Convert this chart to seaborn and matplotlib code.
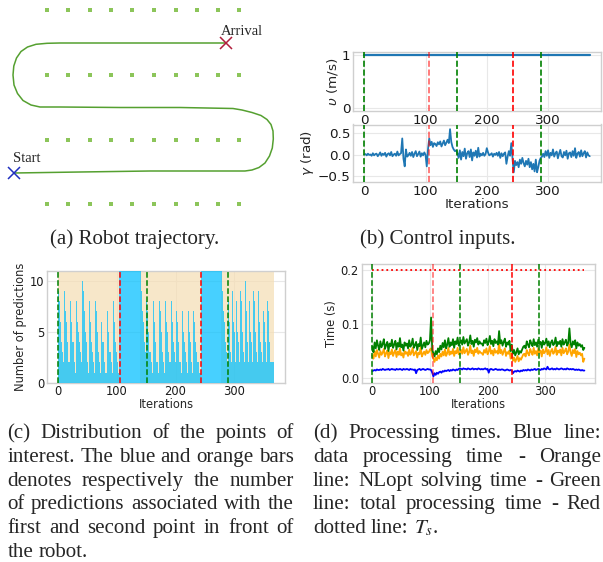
import numpy as np
import matplotlib
matplotlib.use("Agg")
import matplotlib.pyplot as plt
import seaborn as sns

W, H = 603, 562

# ---------------- data ----------------
# (a) field layout and robot path (panel units = picture units)
field_cols = [47, 68, 90, 111, 132, 154, 176, 197, 218, 239]
field_rows = [10, 75, 140, 204]
traj_x = [14, 80, 150, 200, 245, 252, 259, 265, 269.5, 272.3, 273.3, 273, 271, 267,
          261, 252, 242, 233, 180, 120, 60, 40, 31, 23, 17.5, 14, 13, 13.8, 16.5, 21,
          27.5, 36, 47, 60, 120, 180, 226]
traj_y = [173, 172, 171, 171, 171, 170, 167.5, 163, 156, 148, 139, 131, 124.5, 119.5,
          115.5, 112.5, 110, 108.5, 107.5, 107.5, 107, 107, 105, 100.5, 93.5, 85, 75, 66,
          58, 51.5, 47, 44.3, 43.3, 43, 43, 43, 43]
start_pt = (14, 173)
arrival_pt = (226, 43)

# event markers (iterations)
events_green = [0, 152, 289]
events_red = [105, 243]

# (b) control inputs, sampled every 2 iterations
line_iters = list(range(0, 369, 2))
velocity = [1.0] * len(line_iters)
gamma_c = [0, 1, -2, 2, -1, 0, -3, 3, -2, 1, 2, -4, 0, 5, -3, 2, -1, 4, -5, 1,
           3, -2, 6, -4, 0, 2, -3, 7, -2, 1,
           3, 38, -10, -28, 12, -5,
           -2, 4, -3, 6, -6, 2, 8, -4, 1, 7, -5, 3, -2, 5, -1,
           -28, 12,
           38, 22, 30, 18, 27, 25, 20, 29, 24, 31, 19, 26, 33, 22, 28, 35, 27, 60, 30, 18,
           12, 8, 10, 3,
           -8, 10, -12, 6, -4, 14, -10, 3, 8, -6, 12, -14, 5, -3, 9, -7, 16, -5, 2, -2,
           4, -3, 1, 15, 5, -2, 0, 3, -5, 2, -1, 4, -3, 6, -8, 3, -4, 2, 5, -22,
           -5, 8, -3,
           27, -10, -42,
           -15, -25, -18, -30, -12, -22, -8, -20, -28, -15, -24, -10, -30, -18, -35, -22,
           -40, -12, -42, -30, -15, -8, -5,
           2, -6, 8, -3, 10, -8, 4, -2, 12, -5, 3, 7, -9, 2, 11, -4, -7, 6, -2, 9,
           -10, 3, 5, -6, 8, -3, 15, -8, 2, 6, -5, 10, -4, 3, 8, -7, 5, -2, -4]

# (c) number of predictions per iteration (blue: first point, orange: second point)
blue_a = [10, 9, 8, 7, 6, 5, 4, 3, 3, 2, 2, 9, 8, 7, 6, 5, 4, 3, 2, 2, 1,
          8, 7, 6, 5, 4, 4, 3, 2, 2, 1, 8, 7, 6, 5, 5, 4, 3, 3, 2, 2, 1,
          10, 9, 8, 7, 6, 5, 4, 3, 2, 2, 1, 8, 7, 6, 5, 4, 4, 3, 2, 2, 1, 1,
          8, 7, 6, 5, 4, 3, 2, 2, 1, 7, 6, 5, 4, 4, 3, 2, 2, 1, 1,
          8, 7, 6, 5, 4, 3, 3, 2, 2, 1, 1, 8, 7, 6, 5, 4, 3, 2, 2, 2, 1, 1]
blue_b = [13, 14, 15, 14, 16, 13, 15, 14, 13, 16, 15, 14, 13, 15, 16, 14, 13, 15,
          14, 16, 15, 13, 14, 15, 16, 14, 13, 15, 14, 16, 13, 15, 14, 13, 15]
blue_c = [11, 10, 9, 8, 7, 6, 5, 4, 3, 3, 2,
          8, 7, 6, 5, 4, 3, 3, 2, 2, 1, 1, 8, 7, 6, 5, 4, 3, 2, 2, 1, 1,
          9, 8, 7, 6, 5, 4, 3, 2, 2, 1, 1, 8, 7, 6, 5, 4, 3, 3, 2, 2, 1,
          8, 7, 6, 5, 4, 3, 2, 2, 8, 7, 6, 5, 4, 3, 2, 2, 1, 1,
          8, 7, 6, 5, 4, 3, 3, 2, 2, 1, 8, 7, 6, 5, 4, 3, 2, 2, 1, 1,
          7, 6, 5, 4, 3, 3, 2, 2, 2, 1, 1, 1]
blue_d = [14, 15, 13, 16, 14, 15, 13, 14, 16, 15, 14, 13, 15, 14, 16, 13, 15, 14,
          13, 16, 14, 15, 13, 14, 15, 16, 14, 13, 15, 14, 16, 13, 14, 15, 13]
blue_e = [11, 10, 9, 8, 7, 6, 5, 4, 3, 3, 2, 2,
          8, 7, 6, 5, 3, 2, 2, 9, 8, 6, 5, 3, 2, 2, 8, 7, 5, 4, 3, 2, 1,
          9, 8, 7, 5, 4, 3, 2, 2, 10, 8, 7, 5, 4, 2, 2, 8, 7, 5, 4, 3, 2, 1,
          9, 8, 6, 5, 4, 3, 2, 2, 9, 7, 6, 5, 4, 3, 2, 2, 8, 7, 6, 5, 4, 3, 2, 1,
          8, 7, 6, 4, 3, 2, 2, 3, 2, 2, 2, 1]
orange_a = [13, 15, 14, 16, 12, 14, 15, 13, 17, 14, 15, 12, 16, 14, 13, 15, 14, 16, 13, 15,
            14, 16, 12, 15, 14, 13, 17, 15, 14, 12, 16, 14, 15, 13, 14, 16, 15, 12, 14, 15,
            13, 17, 14, 15, 16, 13, 14, 12, 15, 14, 16, 13, 15, 14, 12, 16, 15, 14, 13, 15,
            14, 12, 16, 15, 13, 14, 17, 13, 15, 14, 12, 15, 14, 16, 13, 15, 14, 12, 16, 14,
            15, 13, 14, 16, 15, 12, 14, 15, 13, 16, 14, 15, 13, 14, 16, 12, 15, 14, 13, 15,
            16, 14, 13, 15, 12]
orange_b = [0, 0, 0, 0, 0, 0, 0, 0, 0, 0, 0, 0, 0, 0, 0, 0, 0, 0,
            0, 0, 0, 0, 0, 0, 0, 0, 0, 0, 0, 0, 0, 0, 0, 0, 0]
orange_c = [14, 16, 13, 15, 12, 14, 16, 15, 13, 14, 15, 12, 16, 14, 13, 15, 17, 14, 12, 15,
            13, 14, 16, 15, 12, 14, 13, 15, 16, 14, 15, 13, 12, 16, 14, 15, 13, 14, 17, 15,
            14, 12, 15, 13, 16, 14, 15, 12, 13, 16, 15, 14, 13, 15, 14, 16, 12, 15, 14, 13,
            16, 15, 14, 12, 13, 15, 16, 14, 15, 13, 12, 14, 16, 15, 13, 14, 15, 17, 12, 14,
            15, 13, 16, 14, 15, 12, 14, 13, 16, 15, 14, 13, 15, 16, 12, 14, 15, 13, 14, 16,
            15, 13, 14]
orange_d = [0, 0, 0, 0, 0, 0, 0, 0, 0, 0, 0, 0, 0, 0, 0, 0, 0, 0,
            0, 0, 0, 0, 0, 0, 0, 0, 0, 0, 0, 0, 0, 0, 0, 0, 0]
orange_e = [15, 13, 14, 16, 12, 15, 14, 13, 16, 15, 14, 12, 13, 16, 15, 14, 13, 15, 17, 14,
            12, 15, 14, 16, 13, 15, 14, 12, 16, 15, 13, 14, 15, 16, 12, 14, 13, 15, 16, 14,
            15, 13, 12, 14, 16, 15, 13, 14, 15, 12, 16, 14, 13, 15, 14, 16, 12, 15, 13, 14,
            16, 15, 14, 13, 12, 15, 16, 14, 13, 15, 14, 12, 16, 15, 13, 14, 15, 16, 13, 14,
            15, 12, 14, 16, 13, 15, 14, 13, 15, 16, 14]
blue_counts = blue_a + blue_b + blue_c + blue_d + blue_e
orange_counts = orange_a + orange_b + orange_c + orange_d + orange_e
bar_iters = list(range(len(blue_counts)))

# (d) processing times in ms, sampled every 2 iterations
t_total = [58, 48, 66, 55, 70, 60, 52, 68, 57, 63, 72, 54, 61, 67, 50, 64, 59, 71, 56, 62,
           69, 53, 65, 58, 74, 57, 62, 51, 66, 60,
           64, 55, 70, 58, 62, 73, 56, 61, 67, 52, 63, 59, 75, 54, 60, 66, 57, 69, 62, 64, 70,
           112,
           52, 46, 40, 50, 44, 55, 48, 60, 53, 65, 57, 70, 55, 62, 74, 58, 66, 61, 72, 56,
           68, 63, 75, 60,
           65, 70, 62, 76, 64, 68, 72, 60, 66, 79, 63, 69, 58, 71, 66, 74, 62, 68, 64, 64,
           60, 70, 65, 73, 61, 67, 78, 63, 69, 59, 72, 65, 68, 62, 87, 64, 70, 60, 67, 73,
           58, 66, 62, 69,
           50, 62, 45, 52, 42, 48, 55, 44, 50, 47, 53, 58,
           60, 55, 68, 62, 57, 70, 64, 59, 72, 61, 66, 58, 71, 63, 67, 56, 69, 62, 65, 73,
           60, 68, 57, 66, 70, 61, 64, 75, 59, 67, 63, 69, 58, 72, 62, 66, 71, 60, 65, 92,
           64, 57, 68, 62, 70, 55, 66, 60, 63, 58, 61, 52, 56]
t_nlopt = [42, 36, 50, 40, 52, 45, 38, 50, 43, 47, 54, 40, 46, 51, 37, 48, 44, 53, 41, 47,
           52, 39, 49, 43, 55, 42, 46, 38, 50, 45,
           48, 41, 53, 43, 47, 56, 42, 46, 50, 38, 47, 44, 58, 40, 45, 49, 43, 52, 46, 48, 53,
           55,
           40, 36, 30, 38, 33, 42, 36, 45, 40, 49, 42, 53, 41, 46, 56, 43, 49, 45, 54, 41,
           50, 46, 56, 44,
           47, 52, 45, 57, 46, 50, 54, 43, 48, 60, 46, 51, 41, 53, 48, 56, 45, 50, 47, 46,
           43, 52, 47, 55, 44, 49, 59, 45, 51, 42, 54, 47, 50, 45, 66, 46, 52, 43, 49, 55,
           41, 48, 45, 51,
           36, 46, 32, 38, 30, 35, 41, 31, 37, 34, 39, 44,
           45, 40, 52, 46, 42, 54, 48, 43, 56, 45, 50, 42, 55, 47, 51, 40, 53, 46, 49, 57,
           44, 52, 41, 50, 54, 45, 48, 58, 43, 51, 47, 53, 42, 56, 46, 50, 55, 44, 49, 62,
           48, 41, 52, 46, 54, 39, 50, 44, 47, 42, 45, 30, 36]
t_data = [13, 14, 15, 14, 16, 15, 15, 16, 15, 17, 16, 15, 16, 16, 17, 15, 16, 17, 16, 16,
          15, 17, 16, 16, 17, 16, 15, 17, 16, 16,
          17, 16, 15, 17, 16, 16, 15, 16, 9, 15, 16, 17, 15, 16, 17, 16, 15, 16, 17, 16, 16,
          15,
          10, 3, 9, 6, 10, 8, 11, 12, 10, 13, 12, 14, 13, 14, 15, 13, 15, 14, 16, 15,
          14, 16, 15, 17,
          18, 17, 16, 18, 17, 17, 16, 18, 17, 16, 17, 18, 16, 17, 17, 16, 18, 17, 16, 17,
          16, 17, 18, 16, 17, 10, 16, 17, 16, 15, 16, 17, 16, 15, 16, 15, 16, 16, 15, 14,
          15, 16, 15, 14,
          15, 14, 9, 12, 13, 12, 14, 13, 12, 14, 13, 15,
          14, 15, 14, 16, 15, 14, 16, 15, 16, 17, 15, 16, 17, 16, 15, 17, 16, 18, 17, 16,
          21, 17, 16, 17, 18, 16, 17, 16, 18, 17, 16, 17, 18, 17, 16, 17, 16, 18, 17, 16,
          17, 16, 17, 16, 15, 16, 15, 16, 15, 14, 15, 14, 14]
Ts = 0.2

x_ticks = [0, 100, 200, 300]

cap_a = "(a) Robot trajectory."
cap_b = "(b) Control inputs."
cap_c = ["(c) Distribution of the points of",
         "interest. The blue and orange bars",
         "denotes respectively the number",
         "of predictions associated with the",
         "first and second point in front of",
         "the robot."]
cap_d = ["(d) Processing times. Blue line:",
         "data processing time - Orange",
         "line: NLopt solving time - Green",
         "line: total processing time - Red",
         r"dotted line: $T_s$."]

# ---------------- figure ----------------
sns.set_style("whitegrid")
plt.rcParams['font.family'] = ['DejaVu Sans']
SERIF = 'Liberation Serif'
CAP_FS = 15.1

fig = plt.figure(figsize=(W / 100, H / 100), dpi=100)


def box(l, t, r, b):
    return [l / W, 1 - b / H, (r - l) / W, (b - t) / H]


def style(ax, fs):
    ax.tick_params(axis='both', length=0, pad=2, labelsize=fs, colors='#1a1a1a')
    for s in ax.spines.values():
        s.set_visible(True)
        s.set_color('#cfcfcf')
        s.set_linewidth(1.0)
    ax.grid(True, color='#e8e8e8', lw=0.8)
    ax.set_axisbelow(True)


def events(ax, lw=1.2, red_alpha=(1.0, 1.0)):
    for e in events_green:
        ax.axvline(e, color='green', ls='--', lw=lw, zorder=4)
    for e, a in zip(events_red, red_alpha):
        ax.axvline(e, color='red', ls='--', lw=lw, alpha=a, zorder=4)


XLIM = (-18.4, 386.4)

# (a) trajectory
ax_a = fig.add_axes(box(0, 0, 300, 222))
fx, fy = np.meshgrid(field_cols, field_rows)
sns.scatterplot(x=fx.ravel(), y=fy.ravel(), marker='s', s=12, color='#8cc55a',
                linewidth=0, ax=ax_a)
sns.lineplot(x=traj_x, y=traj_y, sort=False, estimator=None, color='#55a030',
             lw=1.1, ax=ax_a)
ax_a.plot(*start_pt, marker='x', ms=8, mew=1.1, color='#1f2fbf')
ax_a.plot(*arrival_pt, marker='x', ms=8, mew=1.1, color='#b01e3c')
ax_a.text(12.5, 162.5, "Start", fontsize=10.5, family=SERIF, va='baseline', ha='left')
ax_a.text(221, 35, "Arrival", fontsize=10.5, family=SERIF, va='baseline', ha='left')
ax_a.set_xlim(0, 300)
ax_a.set_ylim(222, 0)
ax_a.axis('off')

# (b) control inputs
FS_B = 9.7
ax_v = fig.add_axes(box(353, 52, 601, 111))
style(ax_v, FS_B)
sns.lineplot(x=line_iters, y=velocity, color='#1f77b4', lw=1.6, ax=ax_v)
events(ax_v, red_alpha=(0.6, 1.0))
ax_v.set_ylim(-0.05, 1.05)
ax_v.set_yticks([0, 1])
ax_v.set_xlim(*XLIM)
ax_v.set_xticks(x_ticks)
ax_v.set_ylabel(r"$\upsilon$ (m/s)", fontsize=FS_B, labelpad=1)

ax_g = fig.add_axes(box(353, 124.5, 601, 182))
style(ax_g, FS_B)
sns.lineplot(x=line_iters, y=np.array(gamma_c) / 100.0, color='#1f77b4', lw=1.3, ax=ax_g)
events(ax_g, red_alpha=(0.6, 1.0))
ax_g.set_ylim(-0.65, 0.71)
ax_g.set_yticks([-0.5, 0.0, 0.5])
ax_g.set_xlim(*XLIM)
ax_g.set_xticks(x_ticks)
ax_g.set_ylabel(r"$\gamma$ (rad)", fontsize=FS_B, labelpad=1)
ax_g.set_xlabel("Iterations", fontsize=FS_B, labelpad=0)

# (c) distribution of predictions
FS_C = 8.3
ax_c = fig.add_axes(box(47.3, 270.7, 285, 382.7))
style(ax_c, FS_C)
ax_c.bar(bar_iters, orange_counts, width=1.0, color='#f5deb3', alpha=0.7, linewidth=0, zorder=2)
ax_c.bar(bar_iters, blue_counts, width=1.0, color='#00bfff', alpha=0.72, linewidth=0, zorder=3)
events(ax_c, lw=1.1)
ax_c.set_ylim(0, 11)
ax_c.set_yticks([0, 5, 10])
ax_c.set_xlim(*XLIM)
ax_c.set_xticks(x_ticks)
ax_c.set_ylabel("Number of predictions", fontsize=FS_C, labelpad=2)
ax_c.set_xlabel("Iterations", fontsize=FS_C, labelpad=0)

# (d) processing times
ax_d = fig.add_axes(box(361.7, 264.3, 595, 382.7))
style(ax_d, FS_C)
sns.lineplot(x=line_iters, y=np.array(t_data) / 1000.0, color='blue', lw=1.3, ax=ax_d)
sns.lineplot(x=line_iters, y=np.array(t_nlopt) / 1000.0, color='orange', lw=1.3, ax=ax_d)
sns.lineplot(x=line_iters, y=np.array(t_total) / 1000.0, color='green', lw=1.3, ax=ax_d)
sns.lineplot(x=[line_iters[0], line_iters[-1]], y=[Ts, Ts], color='red', lw=1.3,
             ls=':', ax=ax_d)
events(ax_d, lw=1.1, red_alpha=(0.6, 1.0))
ax_d.set_ylim(-0.0085, 0.2105)
ax_d.set_yticks([0.0, 0.1, 0.2])
ax_d.set_xlim(*XLIM)
ax_d.set_xticks(x_ticks)
ax_d.set_ylabel("Time (s)", fontsize=FS_C, labelpad=2)
ax_d.set_xlabel("Iterations", fontsize=FS_C, labelpad=0)

# captions
fig.text(135 / W, 1 - 244 / H, cap_a, fontsize=CAP_FS, family=SERIF, ha='center', va='baseline')
fig.text(438 / W, 1 - 244 / H, cap_b, fontsize=CAP_FS, family=SERIF, ha='center', va='baseline')

renderer = fig.canvas.get_renderer()


def place_justified(lines, left, right, base0, pitch):
    for i, line in enumerate(lines):
        words = line.split(' ')
        y = 1 - (base0 + i * pitch) / H
        ts = [fig.text(0, y, w, fontsize=CAP_FS, family=SERIF, math_fontfamily='stix',
                       va='baseline', ha='left') for w in words]
        ws = [t.get_window_extent(renderer).width for t in ts]
        if i == len(lines) - 1:
            gap = CAP_FS * 100 / 72 * 0.25
        else:
            gap = (right - left - sum(ws)) / (len(words) - 1)
        x = left
        for t, w in zip(ts, ws):
            t.set_x(x / W)
            x += w + gap


place_justified(cap_c, 7.3, 294, 438.3, 23.65)
place_justified(cap_d, 313, 601, 438.3, 23.65)

fig.savefig("out.png", dpi=100)
